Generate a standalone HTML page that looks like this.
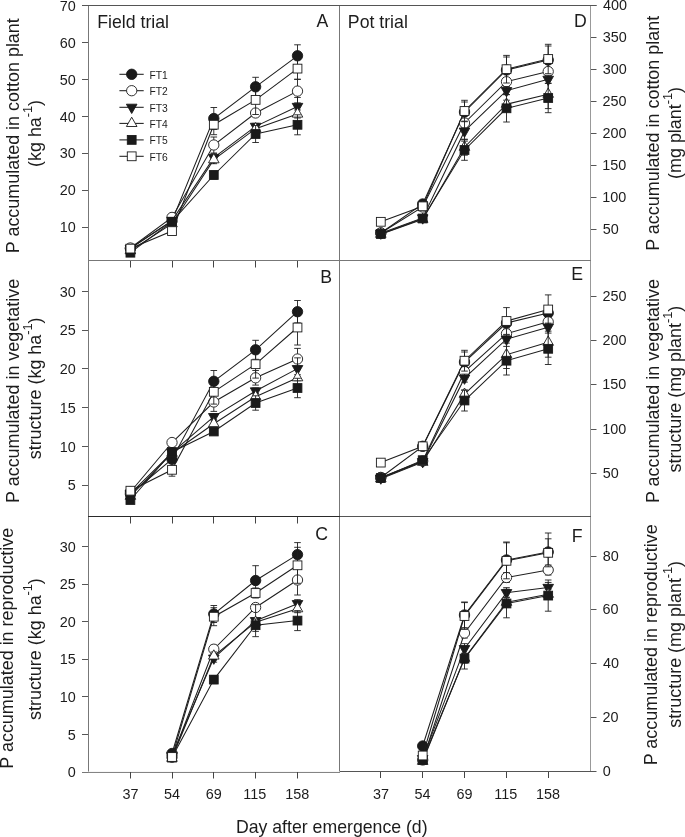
<!DOCTYPE html>
<html><head><meta charset="utf-8"><style>
html,body{margin:0;padding:0;background:#fff;}
svg{display:block;will-change:transform;}
text{font-family:"Liberation Sans",sans-serif;fill:#1c1c1c;}
</style></head><body>
<svg width="685" height="837" viewBox="0 0 685 837">
<rect width="685" height="837" fill="#fff"/>
<line x1="88.50" y1="5.00" x2="88.50" y2="773.00" stroke="#777" stroke-width="1"/>
<line x1="339.50" y1="5.00" x2="339.50" y2="772.00" stroke="#777" stroke-width="1"/>
<line x1="590.50" y1="5.00" x2="590.50" y2="772.00" stroke="#999" stroke-width="1"/>
<line x1="82.00" y1="5.50" x2="596.50" y2="5.50" stroke="#555" stroke-width="1"/>
<line x1="88.00" y1="260.50" x2="591.00" y2="260.50" stroke="#777" stroke-width="1"/>
<line x1="88.00" y1="516.50" x2="340.00" y2="516.50" stroke="#2a2a2a" stroke-width="1"/>
<line x1="340.00" y1="516.50" x2="591.00" y2="516.50" stroke="#555" stroke-width="1"/>
<line x1="82.00" y1="772.50" x2="340.00" y2="772.50" stroke="#777" stroke-width="1"/>
<line x1="88.00" y1="771.70" x2="340.00" y2="771.70" stroke="#eee" stroke-width="0.6"/>
<line x1="340.00" y1="771.50" x2="591.00" y2="771.50" stroke="#555" stroke-width="1"/>
<line x1="82.00" y1="227.50" x2="88.00" y2="227.50" stroke="#555" stroke-width="1"/>
<text x="59.75" y="232.40" font-size="14.4" text-anchor="start" >10</text>
<line x1="82.00" y1="190.50" x2="88.00" y2="190.50" stroke="#555" stroke-width="1"/>
<text x="59.75" y="195.43" font-size="14.4" text-anchor="start" >20</text>
<line x1="82.00" y1="153.50" x2="88.00" y2="153.50" stroke="#555" stroke-width="1"/>
<text x="59.75" y="158.47" font-size="14.4" text-anchor="start" >30</text>
<line x1="82.00" y1="116.50" x2="88.00" y2="116.50" stroke="#555" stroke-width="1"/>
<text x="59.75" y="121.50" font-size="14.4" text-anchor="start" >40</text>
<line x1="82.00" y1="79.50" x2="88.00" y2="79.50" stroke="#555" stroke-width="1"/>
<text x="59.75" y="84.53" font-size="14.4" text-anchor="start" >50</text>
<line x1="82.00" y1="42.50" x2="88.00" y2="42.50" stroke="#555" stroke-width="1"/>
<text x="59.75" y="47.57" font-size="14.4" text-anchor="start" >60</text>
<text x="59.75" y="10.60" font-size="14.4" text-anchor="start" >70</text>
<line x1="82.00" y1="485.50" x2="88.00" y2="485.50" stroke="#555" stroke-width="1"/>
<text x="67.80" y="490.30" font-size="14.4" text-anchor="start" >5</text>
<line x1="82.00" y1="446.50" x2="88.00" y2="446.50" stroke="#555" stroke-width="1"/>
<text x="59.75" y="451.56" font-size="14.4" text-anchor="start" >10</text>
<line x1="82.00" y1="407.50" x2="88.00" y2="407.50" stroke="#555" stroke-width="1"/>
<text x="59.79" y="412.82" font-size="14.4" text-anchor="start" >15</text>
<line x1="82.00" y1="368.50" x2="88.00" y2="368.50" stroke="#555" stroke-width="1"/>
<text x="59.75" y="374.08" font-size="14.4" text-anchor="start" >20</text>
<line x1="82.00" y1="330.50" x2="88.00" y2="330.50" stroke="#555" stroke-width="1"/>
<text x="59.79" y="335.34" font-size="14.4" text-anchor="start" >25</text>
<line x1="82.00" y1="291.50" x2="88.00" y2="291.50" stroke="#555" stroke-width="1"/>
<text x="59.75" y="296.60" font-size="14.4" text-anchor="start" >30</text>
<line x1="82.00" y1="734.50" x2="88.00" y2="734.50" stroke="#555" stroke-width="1"/>
<text x="67.80" y="739.51" font-size="14.4" text-anchor="start" >5</text>
<line x1="82.00" y1="696.50" x2="88.00" y2="696.50" stroke="#555" stroke-width="1"/>
<text x="59.75" y="701.93" font-size="14.4" text-anchor="start" >10</text>
<line x1="82.00" y1="659.50" x2="88.00" y2="659.50" stroke="#555" stroke-width="1"/>
<text x="59.79" y="664.35" font-size="14.4" text-anchor="start" >15</text>
<line x1="82.00" y1="621.50" x2="88.00" y2="621.50" stroke="#555" stroke-width="1"/>
<text x="59.75" y="626.76" font-size="14.4" text-anchor="start" >20</text>
<line x1="82.00" y1="584.50" x2="88.00" y2="584.50" stroke="#555" stroke-width="1"/>
<text x="59.79" y="589.18" font-size="14.4" text-anchor="start" >25</text>
<line x1="82.00" y1="546.50" x2="88.00" y2="546.50" stroke="#555" stroke-width="1"/>
<text x="59.75" y="551.59" font-size="14.4" text-anchor="start" >30</text>
<text x="67.75" y="777.10" font-size="14.4" text-anchor="start" >0</text>
<line x1="591.00" y1="229.50" x2="596.50" y2="229.50" stroke="#555" stroke-width="1"/>
<text x="602.72" y="233.51" font-size="14.4" text-anchor="start" >50</text>
<line x1="591.00" y1="197.50" x2="596.50" y2="197.50" stroke="#555" stroke-width="1"/>
<text x="602.20" y="201.58" font-size="14.4" text-anchor="start" >100</text>
<line x1="591.00" y1="165.50" x2="596.50" y2="165.50" stroke="#555" stroke-width="1"/>
<text x="602.20" y="169.65" font-size="14.4" text-anchor="start" >150</text>
<line x1="591.00" y1="133.50" x2="596.50" y2="133.50" stroke="#555" stroke-width="1"/>
<text x="602.58" y="137.72" font-size="14.4" text-anchor="start" >200</text>
<line x1="591.00" y1="101.50" x2="596.50" y2="101.50" stroke="#555" stroke-width="1"/>
<text x="602.58" y="105.79" font-size="14.4" text-anchor="start" >250</text>
<line x1="591.00" y1="69.50" x2="596.50" y2="69.50" stroke="#555" stroke-width="1"/>
<text x="602.75" y="73.86" font-size="14.4" text-anchor="start" >300</text>
<line x1="591.00" y1="37.50" x2="596.50" y2="37.50" stroke="#555" stroke-width="1"/>
<text x="602.75" y="41.93" font-size="14.4" text-anchor="start" >350</text>
<line x1="591.00" y1="5.50" x2="596.50" y2="5.50" stroke="#555" stroke-width="1"/>
<text x="602.97" y="10.00" font-size="14.4" text-anchor="start" >400</text>
<line x1="591.00" y1="473.50" x2="596.50" y2="473.50" stroke="#555" stroke-width="1"/>
<text x="602.72" y="478.20" font-size="14.4" text-anchor="start" >50</text>
<line x1="591.00" y1="429.50" x2="596.50" y2="429.50" stroke="#555" stroke-width="1"/>
<text x="602.20" y="433.80" font-size="14.4" text-anchor="start" >100</text>
<line x1="591.00" y1="384.50" x2="596.50" y2="384.50" stroke="#555" stroke-width="1"/>
<text x="602.20" y="389.40" font-size="14.4" text-anchor="start" >150</text>
<line x1="591.00" y1="340.50" x2="596.50" y2="340.50" stroke="#555" stroke-width="1"/>
<text x="602.58" y="345.00" font-size="14.4" text-anchor="start" >200</text>
<line x1="591.00" y1="296.50" x2="596.50" y2="296.50" stroke="#555" stroke-width="1"/>
<text x="602.58" y="300.60" font-size="14.4" text-anchor="start" >250</text>
<line x1="591.00" y1="717.50" x2="596.50" y2="717.50" stroke="#555" stroke-width="1"/>
<text x="602.58" y="722.00" font-size="14.4" text-anchor="start" >20</text>
<line x1="591.00" y1="663.50" x2="596.50" y2="663.50" stroke="#555" stroke-width="1"/>
<text x="602.97" y="668.20" font-size="14.4" text-anchor="start" >40</text>
<line x1="591.00" y1="609.50" x2="596.50" y2="609.50" stroke="#555" stroke-width="1"/>
<text x="602.57" y="614.40" font-size="14.4" text-anchor="start" >60</text>
<line x1="591.00" y1="556.50" x2="596.50" y2="556.50" stroke="#555" stroke-width="1"/>
<text x="602.67" y="560.60" font-size="14.4" text-anchor="start" >80</text>
<text x="602.74" y="775.80" font-size="14.4" text-anchor="start" >0</text>
<line x1="591.00" y1="771.50" x2="596.50" y2="771.50" stroke="#555" stroke-width="1"/>
<line x1="130.50" y1="261.00" x2="130.50" y2="267.50" stroke="#444" stroke-width="1"/>
<line x1="172.50" y1="261.00" x2="172.50" y2="267.50" stroke="#444" stroke-width="1"/>
<line x1="213.50" y1="261.00" x2="213.50" y2="267.50" stroke="#444" stroke-width="1"/>
<line x1="255.50" y1="261.00" x2="255.50" y2="267.50" stroke="#444" stroke-width="1"/>
<line x1="297.50" y1="261.00" x2="297.50" y2="267.50" stroke="#444" stroke-width="1"/>
<line x1="130.50" y1="517.00" x2="130.50" y2="523.50" stroke="#444" stroke-width="1"/>
<line x1="172.50" y1="517.00" x2="172.50" y2="523.50" stroke="#444" stroke-width="1"/>
<line x1="213.50" y1="517.00" x2="213.50" y2="523.50" stroke="#444" stroke-width="1"/>
<line x1="255.50" y1="517.00" x2="255.50" y2="523.50" stroke="#444" stroke-width="1"/>
<line x1="297.50" y1="517.00" x2="297.50" y2="523.50" stroke="#444" stroke-width="1"/>
<line x1="130.50" y1="772.00" x2="130.50" y2="778.50" stroke="#444" stroke-width="1"/>
<line x1="172.50" y1="772.00" x2="172.50" y2="778.50" stroke="#444" stroke-width="1"/>
<line x1="213.50" y1="772.00" x2="213.50" y2="778.50" stroke="#444" stroke-width="1"/>
<line x1="255.50" y1="772.00" x2="255.50" y2="778.50" stroke="#444" stroke-width="1"/>
<line x1="297.50" y1="772.00" x2="297.50" y2="778.50" stroke="#444" stroke-width="1"/>
<line x1="380.50" y1="772.00" x2="380.50" y2="778.00" stroke="#444" stroke-width="1"/>
<line x1="422.50" y1="772.00" x2="422.50" y2="778.00" stroke="#444" stroke-width="1"/>
<line x1="464.50" y1="772.00" x2="464.50" y2="778.00" stroke="#444" stroke-width="1"/>
<line x1="506.50" y1="772.00" x2="506.50" y2="778.00" stroke="#444" stroke-width="1"/>
<line x1="548.50" y1="772.00" x2="548.50" y2="778.00" stroke="#444" stroke-width="1"/>
<text x="122.48" y="798.60" font-size="14.4" text-anchor="start" >37</text>
<text x="163.91" y="798.60" font-size="14.4" text-anchor="start" >54</text>
<text x="205.77" y="798.60" font-size="14.4" text-anchor="start" >69</text>
<text x="243.34" y="798.60" font-size="14.4" text-anchor="start" >115</text>
<text x="285.25" y="798.60" font-size="14.4" text-anchor="start" >158</text>
<text x="372.88" y="798.60" font-size="14.4" text-anchor="start" >37</text>
<text x="414.61" y="798.60" font-size="14.4" text-anchor="start" >54</text>
<text x="456.47" y="798.60" font-size="14.4" text-anchor="start" >69</text>
<text x="494.24" y="798.60" font-size="14.4" text-anchor="start" >115</text>
<text x="535.95" y="798.60" font-size="14.4" text-anchor="start" >158</text>
<text x="97.25" y="27.60" font-size="17.7" text-anchor="start" >Field trial</text>
<text x="347.85" y="27.50" font-size="17.7" text-anchor="start" >Pot trial</text>
<text x="316.53" y="27.00" font-size="17.7" text-anchor="start" >A</text>
<text x="320.33" y="282.70" font-size="17.7" text-anchor="start" >B</text>
<text x="315.19" y="539.70" font-size="17.7" text-anchor="start" >C</text>
<text x="573.96" y="27.40" font-size="17.7" text-anchor="start" >D</text>
<text x="571.15" y="279.90" font-size="17.7" text-anchor="start" >E</text>
<text x="571.80" y="541.90" font-size="17.7" text-anchor="start" >F</text>
<text x="235.91" y="832.80" font-size="17.7" text-anchor="start" >Day after emergence (d)</text>
<text transform="translate(19.10,135.70) rotate(-90)" x="0" y="0" font-size="17.95" text-anchor="middle"><tspan>P accumulated in cotton plant</tspan></text>
<text transform="translate(40.60,133.50) rotate(-90)" x="0" y="0" font-size="17.95" text-anchor="middle"><tspan>(kg ha</tspan><tspan font-size="12.6" dy="-8.97">-1</tspan><tspan dy="8.97">)</tspan></text>
<text transform="translate(19.10,390.90) rotate(-90)" x="0" y="0" font-size="17.95" text-anchor="middle"><tspan>P accumulated in vegetative</tspan></text>
<text transform="translate(40.60,388.40) rotate(-90)" x="0" y="0" font-size="17.95" text-anchor="middle"><tspan>structure (kg ha</tspan><tspan font-size="12.6" dy="-8.97">-1</tspan><tspan dy="8.97">)</tspan></text>
<text transform="translate(13.40,648.20) rotate(-90)" x="0" y="0" font-size="17.95" text-anchor="middle"><tspan>P accumulated in reproductive</tspan></text>
<text transform="translate(40.90,649.10) rotate(-90)" x="0" y="0" font-size="17.95" text-anchor="middle"><tspan>structure (kg ha</tspan><tspan font-size="12.6" dy="-8.97">-1</tspan><tspan dy="8.97">)</tspan></text>
<text transform="translate(659.40,133.30) rotate(-90)" x="0" y="0" font-size="17.95" text-anchor="middle"><tspan>P accumulated in cotton plant</tspan></text>
<text transform="translate(681.00,133.00) rotate(-90)" x="0" y="0" font-size="17.95" text-anchor="middle"><tspan>(mg plant</tspan><tspan font-size="12.6" dy="-8.97">-1</tspan><tspan dy="8.97">)</tspan></text>
<text transform="translate(659.40,391.00) rotate(-90)" x="0" y="0" font-size="17.95" text-anchor="middle"><tspan>P accumulated in vegetative</tspan></text>
<text transform="translate(681.00,389.20) rotate(-90)" x="0" y="0" font-size="17.95" text-anchor="middle"><tspan>structure (mg plant</tspan><tspan font-size="12.6" dy="-8.97">-1</tspan><tspan dy="8.97">)</tspan></text>
<text transform="translate(657.00,644.80) rotate(-90)" x="0" y="0" font-size="17.95" text-anchor="middle"><tspan>P accumulated in reproductive</tspan></text>
<text transform="translate(681.00,644.30) rotate(-90)" x="0" y="0" font-size="17.95" text-anchor="middle"><tspan>structure (mg plant</tspan><tspan font-size="12.6" dy="-8.97">-1</tspan><tspan dy="8.97">)</tspan></text>
<polyline fill="none" stroke="#1e1e1e" stroke-width="1.05" points="130.40,248.50 172.00,221.00 213.80,118.50 255.60,86.80 297.50,55.80"/>
<line x1="213.80" y1="107.50" x2="213.80" y2="129.50" stroke="#1e1e1e" stroke-width="0.9"/>
<line x1="210.50" y1="107.50" x2="217.10" y2="107.50" stroke="#1e1e1e" stroke-width="0.9"/>
<line x1="210.50" y1="129.50" x2="217.10" y2="129.50" stroke="#1e1e1e" stroke-width="0.9"/>
<line x1="255.60" y1="77.30" x2="255.60" y2="96.30" stroke="#1e1e1e" stroke-width="0.9"/>
<line x1="252.30" y1="77.30" x2="258.90" y2="77.30" stroke="#1e1e1e" stroke-width="0.9"/>
<line x1="252.30" y1="96.30" x2="258.90" y2="96.30" stroke="#1e1e1e" stroke-width="0.9"/>
<line x1="297.50" y1="44.80" x2="297.50" y2="66.80" stroke="#1e1e1e" stroke-width="0.9"/>
<line x1="294.20" y1="44.80" x2="300.80" y2="44.80" stroke="#1e1e1e" stroke-width="0.9"/>
<line x1="294.20" y1="66.80" x2="300.80" y2="66.80" stroke="#1e1e1e" stroke-width="0.9"/>
<circle cx="130.40" cy="248.50" r="5.2" fill="#1a1a1a" stroke="#1a1a1a" stroke-width="0.9"/>
<circle cx="172.00" cy="221.00" r="5.2" fill="#1a1a1a" stroke="#1a1a1a" stroke-width="0.9"/>
<circle cx="213.80" cy="118.50" r="5.2" fill="#1a1a1a" stroke="#1a1a1a" stroke-width="0.9"/>
<circle cx="255.60" cy="86.80" r="5.2" fill="#1a1a1a" stroke="#1a1a1a" stroke-width="0.9"/>
<circle cx="297.50" cy="55.80" r="5.2" fill="#1a1a1a" stroke="#1a1a1a" stroke-width="0.9"/>
<polyline fill="none" stroke="#1e1e1e" stroke-width="1.05" points="130.40,248.00 172.00,217.40 213.80,145.00 255.60,113.00 297.50,91.10"/>
<line x1="213.80" y1="137.00" x2="213.80" y2="153.00" stroke="#1e1e1e" stroke-width="0.9"/>
<line x1="210.50" y1="137.00" x2="217.10" y2="137.00" stroke="#1e1e1e" stroke-width="0.9"/>
<line x1="210.50" y1="153.00" x2="217.10" y2="153.00" stroke="#1e1e1e" stroke-width="0.9"/>
<line x1="255.60" y1="111.00" x2="255.60" y2="115.00" stroke="#1e1e1e" stroke-width="0.9"/>
<line x1="252.30" y1="111.00" x2="258.90" y2="111.00" stroke="#1e1e1e" stroke-width="0.9"/>
<line x1="252.30" y1="115.00" x2="258.90" y2="115.00" stroke="#1e1e1e" stroke-width="0.9"/>
<line x1="297.50" y1="79.30" x2="297.50" y2="102.90" stroke="#1e1e1e" stroke-width="0.9"/>
<line x1="294.20" y1="79.30" x2="300.80" y2="79.30" stroke="#1e1e1e" stroke-width="0.9"/>
<line x1="294.20" y1="102.90" x2="300.80" y2="102.90" stroke="#1e1e1e" stroke-width="0.9"/>
<circle cx="130.40" cy="248.00" r="5.15" fill="#fff" stroke="#1a1a1a" stroke-width="0.9"/>
<circle cx="172.00" cy="217.40" r="5.15" fill="#fff" stroke="#1a1a1a" stroke-width="0.9"/>
<circle cx="213.80" cy="145.00" r="5.15" fill="#fff" stroke="#1a1a1a" stroke-width="0.9"/>
<circle cx="255.60" cy="113.00" r="5.15" fill="#fff" stroke="#1a1a1a" stroke-width="0.9"/>
<circle cx="297.50" cy="91.10" r="5.15" fill="#fff" stroke="#1a1a1a" stroke-width="0.9"/>
<polyline fill="none" stroke="#1e1e1e" stroke-width="1.05" points="130.40,248.15 172.00,220.65 213.80,157.65 255.60,126.35 297.50,106.45"/>
<line x1="213.80" y1="153.65" x2="213.80" y2="161.65" stroke="#1e1e1e" stroke-width="0.9"/>
<line x1="210.50" y1="153.65" x2="217.10" y2="153.65" stroke="#1e1e1e" stroke-width="0.9"/>
<line x1="210.50" y1="161.65" x2="217.10" y2="161.65" stroke="#1e1e1e" stroke-width="0.9"/>
<line x1="255.60" y1="123.35" x2="255.60" y2="129.35" stroke="#1e1e1e" stroke-width="0.9"/>
<line x1="252.30" y1="123.35" x2="258.90" y2="123.35" stroke="#1e1e1e" stroke-width="0.9"/>
<line x1="252.30" y1="129.35" x2="258.90" y2="129.35" stroke="#1e1e1e" stroke-width="0.9"/>
<line x1="297.50" y1="97.45" x2="297.50" y2="115.45" stroke="#1e1e1e" stroke-width="0.9"/>
<line x1="294.20" y1="97.45" x2="300.80" y2="97.45" stroke="#1e1e1e" stroke-width="0.9"/>
<line x1="294.20" y1="115.45" x2="300.80" y2="115.45" stroke="#1e1e1e" stroke-width="0.9"/>
<polygon points="125.10,245.05 135.70,245.05 130.40,254.35" fill="#1a1a1a" stroke="#1a1a1a" stroke-width="0.9"/>
<polygon points="166.70,217.55 177.30,217.55 172.00,226.85" fill="#1a1a1a" stroke="#1a1a1a" stroke-width="0.9"/>
<polygon points="208.50,154.55 219.10,154.55 213.80,163.85" fill="#1a1a1a" stroke="#1a1a1a" stroke-width="0.9"/>
<polygon points="250.30,123.25 260.90,123.25 255.60,132.55" fill="#1a1a1a" stroke="#1a1a1a" stroke-width="0.9"/>
<polygon points="292.20,103.35 302.80,103.35 297.50,112.65" fill="#1a1a1a" stroke="#1a1a1a" stroke-width="0.9"/>
<polyline fill="none" stroke="#1e1e1e" stroke-width="1.05" points="130.40,250.70 172.00,223.70 213.80,159.70 255.60,128.70 297.50,114.00"/>
<line x1="213.80" y1="155.70" x2="213.80" y2="163.70" stroke="#1e1e1e" stroke-width="0.9"/>
<line x1="210.50" y1="155.70" x2="217.10" y2="155.70" stroke="#1e1e1e" stroke-width="0.9"/>
<line x1="210.50" y1="163.70" x2="217.10" y2="163.70" stroke="#1e1e1e" stroke-width="0.9"/>
<line x1="255.60" y1="125.70" x2="255.60" y2="131.70" stroke="#1e1e1e" stroke-width="0.9"/>
<line x1="252.30" y1="125.70" x2="258.90" y2="125.70" stroke="#1e1e1e" stroke-width="0.9"/>
<line x1="252.30" y1="131.70" x2="258.90" y2="131.70" stroke="#1e1e1e" stroke-width="0.9"/>
<line x1="297.50" y1="110.00" x2="297.50" y2="118.00" stroke="#1e1e1e" stroke-width="0.9"/>
<line x1="294.20" y1="110.00" x2="300.80" y2="110.00" stroke="#1e1e1e" stroke-width="0.9"/>
<line x1="294.20" y1="118.00" x2="300.80" y2="118.00" stroke="#1e1e1e" stroke-width="0.9"/>
<polygon points="125.10,253.80 135.70,253.80 130.40,244.50" fill="#fff" stroke="#1a1a1a" stroke-width="0.9"/>
<polygon points="166.70,226.80 177.30,226.80 172.00,217.50" fill="#fff" stroke="#1a1a1a" stroke-width="0.9"/>
<polygon points="208.50,162.80 219.10,162.80 213.80,153.50" fill="#fff" stroke="#1a1a1a" stroke-width="0.9"/>
<polygon points="250.30,131.80 260.90,131.80 255.60,122.50" fill="#fff" stroke="#1a1a1a" stroke-width="0.9"/>
<polygon points="292.20,117.10 302.80,117.10 297.50,107.80" fill="#fff" stroke="#1a1a1a" stroke-width="0.9"/>
<polyline fill="none" stroke="#1e1e1e" stroke-width="1.05" points="130.40,252.70 172.00,221.70 213.80,175.00 255.60,134.00 297.50,124.80"/>
<line x1="213.80" y1="171.00" x2="213.80" y2="179.00" stroke="#1e1e1e" stroke-width="0.9"/>
<line x1="210.50" y1="171.00" x2="217.10" y2="171.00" stroke="#1e1e1e" stroke-width="0.9"/>
<line x1="210.50" y1="179.00" x2="217.10" y2="179.00" stroke="#1e1e1e" stroke-width="0.9"/>
<line x1="255.60" y1="125.50" x2="255.60" y2="142.50" stroke="#1e1e1e" stroke-width="0.9"/>
<line x1="252.30" y1="125.50" x2="258.90" y2="125.50" stroke="#1e1e1e" stroke-width="0.9"/>
<line x1="252.30" y1="142.50" x2="258.90" y2="142.50" stroke="#1e1e1e" stroke-width="0.9"/>
<line x1="297.50" y1="114.80" x2="297.50" y2="134.80" stroke="#1e1e1e" stroke-width="0.9"/>
<line x1="294.20" y1="114.80" x2="300.80" y2="114.80" stroke="#1e1e1e" stroke-width="0.9"/>
<line x1="294.20" y1="134.80" x2="300.80" y2="134.80" stroke="#1e1e1e" stroke-width="0.9"/>
<rect x="126.00" y="248.30" width="8.80" height="8.80" fill="#1a1a1a" stroke="#1a1a1a" stroke-width="0.9"/>
<rect x="167.60" y="217.30" width="8.80" height="8.80" fill="#1a1a1a" stroke="#1a1a1a" stroke-width="0.9"/>
<rect x="209.40" y="170.60" width="8.80" height="8.80" fill="#1a1a1a" stroke="#1a1a1a" stroke-width="0.9"/>
<rect x="251.20" y="129.60" width="8.80" height="8.80" fill="#1a1a1a" stroke="#1a1a1a" stroke-width="0.9"/>
<rect x="293.10" y="120.40" width="8.80" height="8.80" fill="#1a1a1a" stroke="#1a1a1a" stroke-width="0.9"/>
<polyline fill="none" stroke="#1e1e1e" stroke-width="1.05" points="130.40,248.60 172.00,231.10 213.80,124.70 255.60,99.90 297.50,68.60"/>
<line x1="213.80" y1="114.70" x2="213.80" y2="134.70" stroke="#1e1e1e" stroke-width="0.9"/>
<line x1="210.50" y1="114.70" x2="217.10" y2="114.70" stroke="#1e1e1e" stroke-width="0.9"/>
<line x1="210.50" y1="134.70" x2="217.10" y2="134.70" stroke="#1e1e1e" stroke-width="0.9"/>
<line x1="255.60" y1="85.30" x2="255.60" y2="114.50" stroke="#1e1e1e" stroke-width="0.9"/>
<line x1="252.30" y1="85.30" x2="258.90" y2="85.30" stroke="#1e1e1e" stroke-width="0.9"/>
<line x1="252.30" y1="114.50" x2="258.90" y2="114.50" stroke="#1e1e1e" stroke-width="0.9"/>
<line x1="297.50" y1="57.90" x2="297.50" y2="79.30" stroke="#1e1e1e" stroke-width="0.9"/>
<line x1="294.20" y1="57.90" x2="300.80" y2="57.90" stroke="#1e1e1e" stroke-width="0.9"/>
<line x1="294.20" y1="79.30" x2="300.80" y2="79.30" stroke="#1e1e1e" stroke-width="0.9"/>
<rect x="126.00" y="244.20" width="8.80" height="8.80" fill="#fff" stroke="#1a1a1a" stroke-width="0.9"/>
<rect x="167.60" y="226.70" width="8.80" height="8.80" fill="#fff" stroke="#1a1a1a" stroke-width="0.9"/>
<rect x="209.40" y="120.30" width="8.80" height="8.80" fill="#fff" stroke="#1a1a1a" stroke-width="0.9"/>
<rect x="251.20" y="95.50" width="8.80" height="8.80" fill="#fff" stroke="#1a1a1a" stroke-width="0.9"/>
<rect x="293.10" y="64.20" width="8.80" height="8.80" fill="#fff" stroke="#1a1a1a" stroke-width="0.9"/>
<polyline fill="none" stroke="#1e1e1e" stroke-width="1.05" points="130.40,494.00 172.00,459.20 213.80,381.30 255.60,349.80 297.50,311.70"/>
<line x1="213.80" y1="370.50" x2="213.80" y2="392.10" stroke="#1e1e1e" stroke-width="0.9"/>
<line x1="210.50" y1="370.50" x2="217.10" y2="370.50" stroke="#1e1e1e" stroke-width="0.9"/>
<line x1="210.50" y1="392.10" x2="217.10" y2="392.10" stroke="#1e1e1e" stroke-width="0.9"/>
<line x1="255.60" y1="340.30" x2="255.60" y2="359.30" stroke="#1e1e1e" stroke-width="0.9"/>
<line x1="252.30" y1="340.30" x2="258.90" y2="340.30" stroke="#1e1e1e" stroke-width="0.9"/>
<line x1="252.30" y1="359.30" x2="258.90" y2="359.30" stroke="#1e1e1e" stroke-width="0.9"/>
<line x1="297.50" y1="300.50" x2="297.50" y2="322.90" stroke="#1e1e1e" stroke-width="0.9"/>
<line x1="294.20" y1="300.50" x2="300.80" y2="300.50" stroke="#1e1e1e" stroke-width="0.9"/>
<line x1="294.20" y1="322.90" x2="300.80" y2="322.90" stroke="#1e1e1e" stroke-width="0.9"/>
<circle cx="130.40" cy="494.00" r="5.2" fill="#1a1a1a" stroke="#1a1a1a" stroke-width="0.9"/>
<circle cx="172.00" cy="459.20" r="5.2" fill="#1a1a1a" stroke="#1a1a1a" stroke-width="0.9"/>
<circle cx="213.80" cy="381.30" r="5.2" fill="#1a1a1a" stroke="#1a1a1a" stroke-width="0.9"/>
<circle cx="255.60" cy="349.80" r="5.2" fill="#1a1a1a" stroke="#1a1a1a" stroke-width="0.9"/>
<circle cx="297.50" cy="311.70" r="5.2" fill="#1a1a1a" stroke="#1a1a1a" stroke-width="0.9"/>
<polyline fill="none" stroke="#1e1e1e" stroke-width="1.05" points="130.40,492.00 172.00,442.50 213.80,402.00 255.60,377.80 297.50,359.00"/>
<line x1="213.80" y1="392.60" x2="213.80" y2="411.40" stroke="#1e1e1e" stroke-width="0.9"/>
<line x1="210.50" y1="392.60" x2="217.10" y2="392.60" stroke="#1e1e1e" stroke-width="0.9"/>
<line x1="210.50" y1="411.40" x2="217.10" y2="411.40" stroke="#1e1e1e" stroke-width="0.9"/>
<line x1="255.60" y1="370.50" x2="255.60" y2="385.10" stroke="#1e1e1e" stroke-width="0.9"/>
<line x1="252.30" y1="370.50" x2="258.90" y2="370.50" stroke="#1e1e1e" stroke-width="0.9"/>
<line x1="252.30" y1="385.10" x2="258.90" y2="385.10" stroke="#1e1e1e" stroke-width="0.9"/>
<line x1="297.50" y1="348.40" x2="297.50" y2="369.60" stroke="#1e1e1e" stroke-width="0.9"/>
<line x1="294.20" y1="348.40" x2="300.80" y2="348.40" stroke="#1e1e1e" stroke-width="0.9"/>
<line x1="294.20" y1="369.60" x2="300.80" y2="369.60" stroke="#1e1e1e" stroke-width="0.9"/>
<circle cx="130.40" cy="492.00" r="5.15" fill="#fff" stroke="#1a1a1a" stroke-width="0.9"/>
<circle cx="172.00" cy="442.50" r="5.15" fill="#fff" stroke="#1a1a1a" stroke-width="0.9"/>
<circle cx="213.80" cy="402.00" r="5.15" fill="#fff" stroke="#1a1a1a" stroke-width="0.9"/>
<circle cx="255.60" cy="377.80" r="5.15" fill="#fff" stroke="#1a1a1a" stroke-width="0.9"/>
<circle cx="297.50" cy="359.00" r="5.15" fill="#fff" stroke="#1a1a1a" stroke-width="0.9"/>
<polyline fill="none" stroke="#1e1e1e" stroke-width="1.05" points="130.40,493.65 172.00,452.65 213.80,416.65 255.60,390.95 297.50,368.65"/>
<line x1="213.80" y1="413.65" x2="213.80" y2="419.65" stroke="#1e1e1e" stroke-width="0.9"/>
<line x1="210.50" y1="413.65" x2="217.10" y2="413.65" stroke="#1e1e1e" stroke-width="0.9"/>
<line x1="210.50" y1="419.65" x2="217.10" y2="419.65" stroke="#1e1e1e" stroke-width="0.9"/>
<line x1="255.60" y1="387.95" x2="255.60" y2="393.95" stroke="#1e1e1e" stroke-width="0.9"/>
<line x1="252.30" y1="387.95" x2="258.90" y2="387.95" stroke="#1e1e1e" stroke-width="0.9"/>
<line x1="252.30" y1="393.95" x2="258.90" y2="393.95" stroke="#1e1e1e" stroke-width="0.9"/>
<line x1="297.50" y1="357.85" x2="297.50" y2="379.45" stroke="#1e1e1e" stroke-width="0.9"/>
<line x1="294.20" y1="357.85" x2="300.80" y2="357.85" stroke="#1e1e1e" stroke-width="0.9"/>
<line x1="294.20" y1="379.45" x2="300.80" y2="379.45" stroke="#1e1e1e" stroke-width="0.9"/>
<polygon points="125.10,490.55 135.70,490.55 130.40,499.85" fill="#1a1a1a" stroke="#1a1a1a" stroke-width="0.9"/>
<polygon points="166.70,449.55 177.30,449.55 172.00,458.85" fill="#1a1a1a" stroke="#1a1a1a" stroke-width="0.9"/>
<polygon points="208.50,413.55 219.10,413.55 213.80,422.85" fill="#1a1a1a" stroke="#1a1a1a" stroke-width="0.9"/>
<polygon points="250.30,387.85 260.90,387.85 255.60,397.15" fill="#1a1a1a" stroke="#1a1a1a" stroke-width="0.9"/>
<polygon points="292.20,365.55 302.80,365.55 297.50,374.85" fill="#1a1a1a" stroke="#1a1a1a" stroke-width="0.9"/>
<polyline fill="none" stroke="#1e1e1e" stroke-width="1.05" points="130.40,496.20 172.00,453.20 213.80,423.70 255.60,396.70 297.50,377.70"/>
<line x1="213.80" y1="420.70" x2="213.80" y2="426.70" stroke="#1e1e1e" stroke-width="0.9"/>
<line x1="210.50" y1="420.70" x2="217.10" y2="420.70" stroke="#1e1e1e" stroke-width="0.9"/>
<line x1="210.50" y1="426.70" x2="217.10" y2="426.70" stroke="#1e1e1e" stroke-width="0.9"/>
<line x1="255.60" y1="393.70" x2="255.60" y2="399.70" stroke="#1e1e1e" stroke-width="0.9"/>
<line x1="252.30" y1="393.70" x2="258.90" y2="393.70" stroke="#1e1e1e" stroke-width="0.9"/>
<line x1="252.30" y1="399.70" x2="258.90" y2="399.70" stroke="#1e1e1e" stroke-width="0.9"/>
<line x1="297.50" y1="374.70" x2="297.50" y2="380.70" stroke="#1e1e1e" stroke-width="0.9"/>
<line x1="294.20" y1="374.70" x2="300.80" y2="374.70" stroke="#1e1e1e" stroke-width="0.9"/>
<line x1="294.20" y1="380.70" x2="300.80" y2="380.70" stroke="#1e1e1e" stroke-width="0.9"/>
<polygon points="125.10,499.30 135.70,499.30 130.40,490.00" fill="#fff" stroke="#1a1a1a" stroke-width="0.9"/>
<polygon points="166.70,456.30 177.30,456.30 172.00,447.00" fill="#fff" stroke="#1a1a1a" stroke-width="0.9"/>
<polygon points="208.50,426.80 219.10,426.80 213.80,417.50" fill="#fff" stroke="#1a1a1a" stroke-width="0.9"/>
<polygon points="250.30,399.80 260.90,399.80 255.60,390.50" fill="#fff" stroke="#1a1a1a" stroke-width="0.9"/>
<polygon points="292.20,380.80 302.80,380.80 297.50,371.50" fill="#fff" stroke="#1a1a1a" stroke-width="0.9"/>
<polyline fill="none" stroke="#1e1e1e" stroke-width="1.05" points="130.40,500.00 172.00,452.00 213.80,431.50 255.60,403.00 297.50,388.00"/>
<line x1="213.80" y1="428.50" x2="213.80" y2="434.50" stroke="#1e1e1e" stroke-width="0.9"/>
<line x1="210.50" y1="428.50" x2="217.10" y2="428.50" stroke="#1e1e1e" stroke-width="0.9"/>
<line x1="210.50" y1="434.50" x2="217.10" y2="434.50" stroke="#1e1e1e" stroke-width="0.9"/>
<line x1="255.60" y1="395.80" x2="255.60" y2="410.20" stroke="#1e1e1e" stroke-width="0.9"/>
<line x1="252.30" y1="395.80" x2="258.90" y2="395.80" stroke="#1e1e1e" stroke-width="0.9"/>
<line x1="252.30" y1="410.20" x2="258.90" y2="410.20" stroke="#1e1e1e" stroke-width="0.9"/>
<line x1="297.50" y1="378.30" x2="297.50" y2="397.70" stroke="#1e1e1e" stroke-width="0.9"/>
<line x1="294.20" y1="378.30" x2="300.80" y2="378.30" stroke="#1e1e1e" stroke-width="0.9"/>
<line x1="294.20" y1="397.70" x2="300.80" y2="397.70" stroke="#1e1e1e" stroke-width="0.9"/>
<rect x="126.00" y="495.60" width="8.80" height="8.80" fill="#1a1a1a" stroke="#1a1a1a" stroke-width="0.9"/>
<rect x="167.60" y="447.60" width="8.80" height="8.80" fill="#1a1a1a" stroke="#1a1a1a" stroke-width="0.9"/>
<rect x="209.40" y="427.10" width="8.80" height="8.80" fill="#1a1a1a" stroke="#1a1a1a" stroke-width="0.9"/>
<rect x="251.20" y="398.60" width="8.80" height="8.80" fill="#1a1a1a" stroke="#1a1a1a" stroke-width="0.9"/>
<rect x="293.10" y="383.60" width="8.80" height="8.80" fill="#1a1a1a" stroke="#1a1a1a" stroke-width="0.9"/>
<polyline fill="none" stroke="#1e1e1e" stroke-width="1.05" points="130.40,490.70 172.00,469.80 213.80,391.80 255.60,364.20 297.50,327.50"/>
<line x1="172.00" y1="463.40" x2="172.00" y2="476.20" stroke="#1e1e1e" stroke-width="0.9"/>
<line x1="168.70" y1="463.40" x2="175.30" y2="463.40" stroke="#1e1e1e" stroke-width="0.9"/>
<line x1="168.70" y1="476.20" x2="175.30" y2="476.20" stroke="#1e1e1e" stroke-width="0.9"/>
<line x1="213.80" y1="379.50" x2="213.80" y2="404.10" stroke="#1e1e1e" stroke-width="0.9"/>
<line x1="210.50" y1="379.50" x2="217.10" y2="379.50" stroke="#1e1e1e" stroke-width="0.9"/>
<line x1="210.50" y1="404.10" x2="217.10" y2="404.10" stroke="#1e1e1e" stroke-width="0.9"/>
<line x1="255.60" y1="350.30" x2="255.60" y2="378.10" stroke="#1e1e1e" stroke-width="0.9"/>
<line x1="252.30" y1="350.30" x2="258.90" y2="350.30" stroke="#1e1e1e" stroke-width="0.9"/>
<line x1="252.30" y1="378.10" x2="258.90" y2="378.10" stroke="#1e1e1e" stroke-width="0.9"/>
<line x1="297.50" y1="310.00" x2="297.50" y2="345.00" stroke="#1e1e1e" stroke-width="0.9"/>
<line x1="294.20" y1="310.00" x2="300.80" y2="310.00" stroke="#1e1e1e" stroke-width="0.9"/>
<line x1="294.20" y1="345.00" x2="300.80" y2="345.00" stroke="#1e1e1e" stroke-width="0.9"/>
<rect x="126.00" y="486.30" width="8.80" height="8.80" fill="#fff" stroke="#1a1a1a" stroke-width="0.9"/>
<rect x="167.60" y="465.40" width="8.80" height="8.80" fill="#fff" stroke="#1a1a1a" stroke-width="0.9"/>
<rect x="209.40" y="387.40" width="8.80" height="8.80" fill="#fff" stroke="#1a1a1a" stroke-width="0.9"/>
<rect x="251.20" y="359.80" width="8.80" height="8.80" fill="#fff" stroke="#1a1a1a" stroke-width="0.9"/>
<rect x="293.10" y="323.10" width="8.80" height="8.80" fill="#fff" stroke="#1a1a1a" stroke-width="0.9"/>
<polyline fill="none" stroke="#1e1e1e" stroke-width="1.05" points="172.00,753.50 213.80,614.00 255.60,580.50 297.50,554.60"/>
<line x1="213.80" y1="605.50" x2="213.80" y2="622.50" stroke="#1e1e1e" stroke-width="0.9"/>
<line x1="210.50" y1="605.50" x2="217.10" y2="605.50" stroke="#1e1e1e" stroke-width="0.9"/>
<line x1="210.50" y1="622.50" x2="217.10" y2="622.50" stroke="#1e1e1e" stroke-width="0.9"/>
<line x1="255.60" y1="565.70" x2="255.60" y2="595.30" stroke="#1e1e1e" stroke-width="0.9"/>
<line x1="252.30" y1="565.70" x2="258.90" y2="565.70" stroke="#1e1e1e" stroke-width="0.9"/>
<line x1="252.30" y1="595.30" x2="258.90" y2="595.30" stroke="#1e1e1e" stroke-width="0.9"/>
<line x1="297.50" y1="542.60" x2="297.50" y2="566.60" stroke="#1e1e1e" stroke-width="0.9"/>
<line x1="294.20" y1="542.60" x2="300.80" y2="542.60" stroke="#1e1e1e" stroke-width="0.9"/>
<line x1="294.20" y1="566.60" x2="300.80" y2="566.60" stroke="#1e1e1e" stroke-width="0.9"/>
<circle cx="172.00" cy="753.50" r="5.2" fill="#1a1a1a" stroke="#1a1a1a" stroke-width="0.9"/>
<circle cx="213.80" cy="614.00" r="5.2" fill="#1a1a1a" stroke="#1a1a1a" stroke-width="0.9"/>
<circle cx="255.60" cy="580.50" r="5.2" fill="#1a1a1a" stroke="#1a1a1a" stroke-width="0.9"/>
<circle cx="297.50" cy="554.60" r="5.2" fill="#1a1a1a" stroke="#1a1a1a" stroke-width="0.9"/>
<polyline fill="none" stroke="#1e1e1e" stroke-width="1.05" points="172.00,757.20 213.80,649.20 255.60,607.50 297.50,580.00"/>
<line x1="213.80" y1="645.20" x2="213.80" y2="653.20" stroke="#1e1e1e" stroke-width="0.9"/>
<line x1="210.50" y1="645.20" x2="217.10" y2="645.20" stroke="#1e1e1e" stroke-width="0.9"/>
<line x1="210.50" y1="653.20" x2="217.10" y2="653.20" stroke="#1e1e1e" stroke-width="0.9"/>
<line x1="255.60" y1="603.50" x2="255.60" y2="611.50" stroke="#1e1e1e" stroke-width="0.9"/>
<line x1="252.30" y1="603.50" x2="258.90" y2="603.50" stroke="#1e1e1e" stroke-width="0.9"/>
<line x1="252.30" y1="611.50" x2="258.90" y2="611.50" stroke="#1e1e1e" stroke-width="0.9"/>
<line x1="297.50" y1="565.00" x2="297.50" y2="595.00" stroke="#1e1e1e" stroke-width="0.9"/>
<line x1="294.20" y1="565.00" x2="300.80" y2="565.00" stroke="#1e1e1e" stroke-width="0.9"/>
<line x1="294.20" y1="595.00" x2="300.80" y2="595.00" stroke="#1e1e1e" stroke-width="0.9"/>
<circle cx="172.00" cy="757.20" r="5.15" fill="#fff" stroke="#1a1a1a" stroke-width="0.9"/>
<circle cx="213.80" cy="649.20" r="5.15" fill="#fff" stroke="#1a1a1a" stroke-width="0.9"/>
<circle cx="255.60" cy="607.50" r="5.15" fill="#fff" stroke="#1a1a1a" stroke-width="0.9"/>
<circle cx="297.50" cy="580.00" r="5.15" fill="#fff" stroke="#1a1a1a" stroke-width="0.9"/>
<polyline fill="none" stroke="#1e1e1e" stroke-width="1.05" points="172.00,755.65 213.80,658.15 255.60,620.65 297.50,603.65"/>
<line x1="213.80" y1="654.15" x2="213.80" y2="662.15" stroke="#1e1e1e" stroke-width="0.9"/>
<line x1="210.50" y1="654.15" x2="217.10" y2="654.15" stroke="#1e1e1e" stroke-width="0.9"/>
<line x1="210.50" y1="662.15" x2="217.10" y2="662.15" stroke="#1e1e1e" stroke-width="0.9"/>
<line x1="255.60" y1="604.65" x2="255.60" y2="636.65" stroke="#1e1e1e" stroke-width="0.9"/>
<line x1="252.30" y1="604.65" x2="258.90" y2="604.65" stroke="#1e1e1e" stroke-width="0.9"/>
<line x1="252.30" y1="636.65" x2="258.90" y2="636.65" stroke="#1e1e1e" stroke-width="0.9"/>
<line x1="297.50" y1="599.65" x2="297.50" y2="607.65" stroke="#1e1e1e" stroke-width="0.9"/>
<line x1="294.20" y1="599.65" x2="300.80" y2="599.65" stroke="#1e1e1e" stroke-width="0.9"/>
<line x1="294.20" y1="607.65" x2="300.80" y2="607.65" stroke="#1e1e1e" stroke-width="0.9"/>
<polygon points="166.70,752.55 177.30,752.55 172.00,761.85" fill="#1a1a1a" stroke="#1a1a1a" stroke-width="0.9"/>
<polygon points="208.50,655.05 219.10,655.05 213.80,664.35" fill="#1a1a1a" stroke="#1a1a1a" stroke-width="0.9"/>
<polygon points="250.30,617.55 260.90,617.55 255.60,626.85" fill="#1a1a1a" stroke="#1a1a1a" stroke-width="0.9"/>
<polygon points="292.20,600.55 302.80,600.55 297.50,609.85" fill="#1a1a1a" stroke="#1a1a1a" stroke-width="0.9"/>
<polyline fill="none" stroke="#1e1e1e" stroke-width="1.05" points="172.00,758.20 213.80,656.00 255.60,622.20 297.50,608.70"/>
<line x1="213.80" y1="652.00" x2="213.80" y2="660.00" stroke="#1e1e1e" stroke-width="0.9"/>
<line x1="210.50" y1="652.00" x2="217.10" y2="652.00" stroke="#1e1e1e" stroke-width="0.9"/>
<line x1="210.50" y1="660.00" x2="217.10" y2="660.00" stroke="#1e1e1e" stroke-width="0.9"/>
<line x1="255.60" y1="619.20" x2="255.60" y2="625.20" stroke="#1e1e1e" stroke-width="0.9"/>
<line x1="252.30" y1="619.20" x2="258.90" y2="619.20" stroke="#1e1e1e" stroke-width="0.9"/>
<line x1="252.30" y1="625.20" x2="258.90" y2="625.20" stroke="#1e1e1e" stroke-width="0.9"/>
<line x1="297.50" y1="604.70" x2="297.50" y2="612.70" stroke="#1e1e1e" stroke-width="0.9"/>
<line x1="294.20" y1="604.70" x2="300.80" y2="604.70" stroke="#1e1e1e" stroke-width="0.9"/>
<line x1="294.20" y1="612.70" x2="300.80" y2="612.70" stroke="#1e1e1e" stroke-width="0.9"/>
<polygon points="166.70,761.30 177.30,761.30 172.00,752.00" fill="#fff" stroke="#1a1a1a" stroke-width="0.9"/>
<polygon points="208.50,659.10 219.10,659.10 213.80,649.80" fill="#fff" stroke="#1a1a1a" stroke-width="0.9"/>
<polygon points="250.30,625.30 260.90,625.30 255.60,616.00" fill="#fff" stroke="#1a1a1a" stroke-width="0.9"/>
<polygon points="292.20,611.80 302.80,611.80 297.50,602.50" fill="#fff" stroke="#1a1a1a" stroke-width="0.9"/>
<polyline fill="none" stroke="#1e1e1e" stroke-width="1.05" points="172.00,757.60 213.80,679.60 255.60,625.20 297.50,620.60"/>
<line x1="213.80" y1="675.60" x2="213.80" y2="683.60" stroke="#1e1e1e" stroke-width="0.9"/>
<line x1="210.50" y1="675.60" x2="217.10" y2="675.60" stroke="#1e1e1e" stroke-width="0.9"/>
<line x1="210.50" y1="683.60" x2="217.10" y2="683.60" stroke="#1e1e1e" stroke-width="0.9"/>
<line x1="255.60" y1="619.00" x2="255.60" y2="631.40" stroke="#1e1e1e" stroke-width="0.9"/>
<line x1="252.30" y1="619.00" x2="258.90" y2="619.00" stroke="#1e1e1e" stroke-width="0.9"/>
<line x1="252.30" y1="631.40" x2="258.90" y2="631.40" stroke="#1e1e1e" stroke-width="0.9"/>
<line x1="297.50" y1="610.60" x2="297.50" y2="630.60" stroke="#1e1e1e" stroke-width="0.9"/>
<line x1="294.20" y1="610.60" x2="300.80" y2="610.60" stroke="#1e1e1e" stroke-width="0.9"/>
<line x1="294.20" y1="630.60" x2="300.80" y2="630.60" stroke="#1e1e1e" stroke-width="0.9"/>
<rect x="167.60" y="753.20" width="8.80" height="8.80" fill="#1a1a1a" stroke="#1a1a1a" stroke-width="0.9"/>
<rect x="209.40" y="675.20" width="8.80" height="8.80" fill="#1a1a1a" stroke="#1a1a1a" stroke-width="0.9"/>
<rect x="251.20" y="620.80" width="8.80" height="8.80" fill="#1a1a1a" stroke="#1a1a1a" stroke-width="0.9"/>
<rect x="293.10" y="616.20" width="8.80" height="8.80" fill="#1a1a1a" stroke="#1a1a1a" stroke-width="0.9"/>
<polyline fill="none" stroke="#1e1e1e" stroke-width="1.05" points="172.00,757.00 213.80,616.70 255.60,593.00 297.50,565.30"/>
<line x1="213.80" y1="607.70" x2="213.80" y2="625.70" stroke="#1e1e1e" stroke-width="0.9"/>
<line x1="210.50" y1="607.70" x2="217.10" y2="607.70" stroke="#1e1e1e" stroke-width="0.9"/>
<line x1="210.50" y1="625.70" x2="217.10" y2="625.70" stroke="#1e1e1e" stroke-width="0.9"/>
<line x1="255.60" y1="588.00" x2="255.60" y2="598.00" stroke="#1e1e1e" stroke-width="0.9"/>
<line x1="252.30" y1="588.00" x2="258.90" y2="588.00" stroke="#1e1e1e" stroke-width="0.9"/>
<line x1="252.30" y1="598.00" x2="258.90" y2="598.00" stroke="#1e1e1e" stroke-width="0.9"/>
<line x1="297.50" y1="547.30" x2="297.50" y2="583.30" stroke="#1e1e1e" stroke-width="0.9"/>
<line x1="294.20" y1="547.30" x2="300.80" y2="547.30" stroke="#1e1e1e" stroke-width="0.9"/>
<line x1="294.20" y1="583.30" x2="300.80" y2="583.30" stroke="#1e1e1e" stroke-width="0.9"/>
<rect x="167.60" y="752.60" width="8.80" height="8.80" fill="#fff" stroke="#1a1a1a" stroke-width="0.9"/>
<rect x="209.40" y="612.30" width="8.80" height="8.80" fill="#fff" stroke="#1a1a1a" stroke-width="0.9"/>
<rect x="251.20" y="588.60" width="8.80" height="8.80" fill="#fff" stroke="#1a1a1a" stroke-width="0.9"/>
<rect x="293.10" y="560.90" width="8.80" height="8.80" fill="#fff" stroke="#1a1a1a" stroke-width="0.9"/>
<polyline fill="none" stroke="#1e1e1e" stroke-width="1.05" points="380.80,233.00 422.70,204.00 464.50,112.00 506.50,70.00 548.20,60.00"/>
<line x1="464.50" y1="102.00" x2="464.50" y2="122.00" stroke="#1e1e1e" stroke-width="0.9"/>
<line x1="461.20" y1="102.00" x2="467.80" y2="102.00" stroke="#1e1e1e" stroke-width="0.9"/>
<line x1="461.20" y1="122.00" x2="467.80" y2="122.00" stroke="#1e1e1e" stroke-width="0.9"/>
<line x1="506.50" y1="57.00" x2="506.50" y2="83.00" stroke="#1e1e1e" stroke-width="0.9"/>
<line x1="503.20" y1="57.00" x2="509.80" y2="57.00" stroke="#1e1e1e" stroke-width="0.9"/>
<line x1="503.20" y1="83.00" x2="509.80" y2="83.00" stroke="#1e1e1e" stroke-width="0.9"/>
<line x1="548.20" y1="46.00" x2="548.20" y2="74.00" stroke="#1e1e1e" stroke-width="0.9"/>
<line x1="544.90" y1="46.00" x2="551.50" y2="46.00" stroke="#1e1e1e" stroke-width="0.9"/>
<line x1="544.90" y1="74.00" x2="551.50" y2="74.00" stroke="#1e1e1e" stroke-width="0.9"/>
<circle cx="380.80" cy="233.00" r="5.2" fill="#1a1a1a" stroke="#1a1a1a" stroke-width="0.9"/>
<circle cx="422.70" cy="204.00" r="5.2" fill="#1a1a1a" stroke="#1a1a1a" stroke-width="0.9"/>
<circle cx="464.50" cy="112.00" r="5.2" fill="#1a1a1a" stroke="#1a1a1a" stroke-width="0.9"/>
<circle cx="506.50" cy="70.00" r="5.2" fill="#1a1a1a" stroke="#1a1a1a" stroke-width="0.9"/>
<circle cx="548.20" cy="60.00" r="5.2" fill="#1a1a1a" stroke="#1a1a1a" stroke-width="0.9"/>
<polyline fill="none" stroke="#1e1e1e" stroke-width="1.05" points="380.80,233.00 422.70,207.00 464.50,123.00 506.50,81.70 548.20,71.50"/>
<line x1="464.50" y1="119.00" x2="464.50" y2="127.00" stroke="#1e1e1e" stroke-width="0.9"/>
<line x1="461.20" y1="119.00" x2="467.80" y2="119.00" stroke="#1e1e1e" stroke-width="0.9"/>
<line x1="461.20" y1="127.00" x2="467.80" y2="127.00" stroke="#1e1e1e" stroke-width="0.9"/>
<line x1="506.50" y1="77.70" x2="506.50" y2="85.70" stroke="#1e1e1e" stroke-width="0.9"/>
<line x1="503.20" y1="77.70" x2="509.80" y2="77.70" stroke="#1e1e1e" stroke-width="0.9"/>
<line x1="503.20" y1="85.70" x2="509.80" y2="85.70" stroke="#1e1e1e" stroke-width="0.9"/>
<line x1="548.20" y1="67.50" x2="548.20" y2="75.50" stroke="#1e1e1e" stroke-width="0.9"/>
<line x1="544.90" y1="67.50" x2="551.50" y2="67.50" stroke="#1e1e1e" stroke-width="0.9"/>
<line x1="544.90" y1="75.50" x2="551.50" y2="75.50" stroke="#1e1e1e" stroke-width="0.9"/>
<circle cx="380.80" cy="233.00" r="5.15" fill="#fff" stroke="#1a1a1a" stroke-width="0.9"/>
<circle cx="422.70" cy="207.00" r="5.15" fill="#fff" stroke="#1a1a1a" stroke-width="0.9"/>
<circle cx="464.50" cy="123.00" r="5.15" fill="#fff" stroke="#1a1a1a" stroke-width="0.9"/>
<circle cx="506.50" cy="81.70" r="5.15" fill="#fff" stroke="#1a1a1a" stroke-width="0.9"/>
<circle cx="548.20" cy="71.50" r="5.15" fill="#fff" stroke="#1a1a1a" stroke-width="0.9"/>
<polyline fill="none" stroke="#1e1e1e" stroke-width="1.05" points="380.80,233.15 422.70,217.95 464.50,131.15 506.50,90.65 548.20,79.35"/>
<line x1="464.50" y1="121.15" x2="464.50" y2="141.15" stroke="#1e1e1e" stroke-width="0.9"/>
<line x1="461.20" y1="121.15" x2="467.80" y2="121.15" stroke="#1e1e1e" stroke-width="0.9"/>
<line x1="461.20" y1="141.15" x2="467.80" y2="141.15" stroke="#1e1e1e" stroke-width="0.9"/>
<line x1="506.50" y1="86.65" x2="506.50" y2="94.65" stroke="#1e1e1e" stroke-width="0.9"/>
<line x1="503.20" y1="86.65" x2="509.80" y2="86.65" stroke="#1e1e1e" stroke-width="0.9"/>
<line x1="503.20" y1="94.65" x2="509.80" y2="94.65" stroke="#1e1e1e" stroke-width="0.9"/>
<line x1="548.20" y1="75.35" x2="548.20" y2="83.35" stroke="#1e1e1e" stroke-width="0.9"/>
<line x1="544.90" y1="75.35" x2="551.50" y2="75.35" stroke="#1e1e1e" stroke-width="0.9"/>
<line x1="544.90" y1="83.35" x2="551.50" y2="83.35" stroke="#1e1e1e" stroke-width="0.9"/>
<polygon points="375.50,230.05 386.10,230.05 380.80,239.35" fill="#1a1a1a" stroke="#1a1a1a" stroke-width="0.9"/>
<polygon points="417.40,214.85 428.00,214.85 422.70,224.15" fill="#1a1a1a" stroke="#1a1a1a" stroke-width="0.9"/>
<polygon points="459.20,128.05 469.80,128.05 464.50,137.35" fill="#1a1a1a" stroke="#1a1a1a" stroke-width="0.9"/>
<polygon points="501.20,87.55 511.80,87.55 506.50,96.85" fill="#1a1a1a" stroke="#1a1a1a" stroke-width="0.9"/>
<polygon points="542.90,76.25 553.50,76.25 548.20,85.55" fill="#1a1a1a" stroke="#1a1a1a" stroke-width="0.9"/>
<polyline fill="none" stroke="#1e1e1e" stroke-width="1.05" points="380.80,234.20 422.70,219.20 464.50,147.20 506.50,104.20 548.20,94.20"/>
<line x1="464.50" y1="139.20" x2="464.50" y2="155.20" stroke="#1e1e1e" stroke-width="0.9"/>
<line x1="461.20" y1="139.20" x2="467.80" y2="139.20" stroke="#1e1e1e" stroke-width="0.9"/>
<line x1="461.20" y1="155.20" x2="467.80" y2="155.20" stroke="#1e1e1e" stroke-width="0.9"/>
<line x1="506.50" y1="100.20" x2="506.50" y2="108.20" stroke="#1e1e1e" stroke-width="0.9"/>
<line x1="503.20" y1="100.20" x2="509.80" y2="100.20" stroke="#1e1e1e" stroke-width="0.9"/>
<line x1="503.20" y1="108.20" x2="509.80" y2="108.20" stroke="#1e1e1e" stroke-width="0.9"/>
<line x1="548.20" y1="79.80" x2="548.20" y2="108.60" stroke="#1e1e1e" stroke-width="0.9"/>
<line x1="544.90" y1="79.80" x2="551.50" y2="79.80" stroke="#1e1e1e" stroke-width="0.9"/>
<line x1="544.90" y1="108.60" x2="551.50" y2="108.60" stroke="#1e1e1e" stroke-width="0.9"/>
<polygon points="375.50,237.30 386.10,237.30 380.80,228.00" fill="#fff" stroke="#1a1a1a" stroke-width="0.9"/>
<polygon points="417.40,222.30 428.00,222.30 422.70,213.00" fill="#fff" stroke="#1a1a1a" stroke-width="0.9"/>
<polygon points="459.20,150.30 469.80,150.30 464.50,141.00" fill="#fff" stroke="#1a1a1a" stroke-width="0.9"/>
<polygon points="501.20,107.30 511.80,107.30 506.50,98.00" fill="#fff" stroke="#1a1a1a" stroke-width="0.9"/>
<polygon points="542.90,97.30 553.50,97.30 548.20,88.00" fill="#fff" stroke="#1a1a1a" stroke-width="0.9"/>
<polyline fill="none" stroke="#1e1e1e" stroke-width="1.05" points="380.80,234.00 422.70,218.50 464.50,150.00 506.50,108.30 548.20,98.00"/>
<line x1="464.50" y1="139.70" x2="464.50" y2="160.30" stroke="#1e1e1e" stroke-width="0.9"/>
<line x1="461.20" y1="139.70" x2="467.80" y2="139.70" stroke="#1e1e1e" stroke-width="0.9"/>
<line x1="461.20" y1="160.30" x2="467.80" y2="160.30" stroke="#1e1e1e" stroke-width="0.9"/>
<line x1="506.50" y1="94.60" x2="506.50" y2="122.00" stroke="#1e1e1e" stroke-width="0.9"/>
<line x1="503.20" y1="94.60" x2="509.80" y2="94.60" stroke="#1e1e1e" stroke-width="0.9"/>
<line x1="503.20" y1="122.00" x2="509.80" y2="122.00" stroke="#1e1e1e" stroke-width="0.9"/>
<line x1="548.20" y1="83.30" x2="548.20" y2="112.70" stroke="#1e1e1e" stroke-width="0.9"/>
<line x1="544.90" y1="83.30" x2="551.50" y2="83.30" stroke="#1e1e1e" stroke-width="0.9"/>
<line x1="544.90" y1="112.70" x2="551.50" y2="112.70" stroke="#1e1e1e" stroke-width="0.9"/>
<rect x="376.40" y="229.60" width="8.80" height="8.80" fill="#1a1a1a" stroke="#1a1a1a" stroke-width="0.9"/>
<rect x="418.30" y="214.10" width="8.80" height="8.80" fill="#1a1a1a" stroke="#1a1a1a" stroke-width="0.9"/>
<rect x="460.10" y="145.60" width="8.80" height="8.80" fill="#1a1a1a" stroke="#1a1a1a" stroke-width="0.9"/>
<rect x="502.10" y="103.90" width="8.80" height="8.80" fill="#1a1a1a" stroke="#1a1a1a" stroke-width="0.9"/>
<rect x="543.80" y="93.60" width="8.80" height="8.80" fill="#1a1a1a" stroke="#1a1a1a" stroke-width="0.9"/>
<polyline fill="none" stroke="#1e1e1e" stroke-width="1.05" points="380.80,221.80 422.70,206.30 464.50,111.00 506.50,69.20 548.20,59.00"/>
<line x1="464.50" y1="100.30" x2="464.50" y2="121.70" stroke="#1e1e1e" stroke-width="0.9"/>
<line x1="461.20" y1="100.30" x2="467.80" y2="100.30" stroke="#1e1e1e" stroke-width="0.9"/>
<line x1="461.20" y1="121.70" x2="467.80" y2="121.70" stroke="#1e1e1e" stroke-width="0.9"/>
<line x1="506.50" y1="55.40" x2="506.50" y2="83.00" stroke="#1e1e1e" stroke-width="0.9"/>
<line x1="503.20" y1="55.40" x2="509.80" y2="55.40" stroke="#1e1e1e" stroke-width="0.9"/>
<line x1="503.20" y1="83.00" x2="509.80" y2="83.00" stroke="#1e1e1e" stroke-width="0.9"/>
<line x1="548.20" y1="44.30" x2="548.20" y2="73.70" stroke="#1e1e1e" stroke-width="0.9"/>
<line x1="544.90" y1="44.30" x2="551.50" y2="44.30" stroke="#1e1e1e" stroke-width="0.9"/>
<line x1="544.90" y1="73.70" x2="551.50" y2="73.70" stroke="#1e1e1e" stroke-width="0.9"/>
<rect x="376.40" y="217.40" width="8.80" height="8.80" fill="#fff" stroke="#1a1a1a" stroke-width="0.9"/>
<rect x="418.30" y="201.90" width="8.80" height="8.80" fill="#fff" stroke="#1a1a1a" stroke-width="0.9"/>
<rect x="460.10" y="106.60" width="8.80" height="8.80" fill="#fff" stroke="#1a1a1a" stroke-width="0.9"/>
<rect x="502.10" y="64.80" width="8.80" height="8.80" fill="#fff" stroke="#1a1a1a" stroke-width="0.9"/>
<rect x="543.80" y="54.60" width="8.80" height="8.80" fill="#fff" stroke="#1a1a1a" stroke-width="0.9"/>
<polyline fill="none" stroke="#1e1e1e" stroke-width="1.05" points="380.80,477.50 422.70,446.30 464.50,362.00 506.50,323.00 548.20,313.00"/>
<line x1="464.50" y1="352.00" x2="464.50" y2="372.00" stroke="#1e1e1e" stroke-width="0.9"/>
<line x1="461.20" y1="352.00" x2="467.80" y2="352.00" stroke="#1e1e1e" stroke-width="0.9"/>
<line x1="461.20" y1="372.00" x2="467.80" y2="372.00" stroke="#1e1e1e" stroke-width="0.9"/>
<line x1="506.50" y1="318.00" x2="506.50" y2="328.00" stroke="#1e1e1e" stroke-width="0.9"/>
<line x1="503.20" y1="318.00" x2="509.80" y2="318.00" stroke="#1e1e1e" stroke-width="0.9"/>
<line x1="503.20" y1="328.00" x2="509.80" y2="328.00" stroke="#1e1e1e" stroke-width="0.9"/>
<line x1="548.20" y1="308.00" x2="548.20" y2="318.00" stroke="#1e1e1e" stroke-width="0.9"/>
<line x1="544.90" y1="308.00" x2="551.50" y2="308.00" stroke="#1e1e1e" stroke-width="0.9"/>
<line x1="544.90" y1="318.00" x2="551.50" y2="318.00" stroke="#1e1e1e" stroke-width="0.9"/>
<circle cx="380.80" cy="477.50" r="5.2" fill="#1a1a1a" stroke="#1a1a1a" stroke-width="0.9"/>
<circle cx="422.70" cy="446.30" r="5.2" fill="#1a1a1a" stroke="#1a1a1a" stroke-width="0.9"/>
<circle cx="464.50" cy="362.00" r="5.2" fill="#1a1a1a" stroke="#1a1a1a" stroke-width="0.9"/>
<circle cx="506.50" cy="323.00" r="5.2" fill="#1a1a1a" stroke="#1a1a1a" stroke-width="0.9"/>
<circle cx="548.20" cy="313.00" r="5.2" fill="#1a1a1a" stroke="#1a1a1a" stroke-width="0.9"/>
<polyline fill="none" stroke="#1e1e1e" stroke-width="1.05" points="380.80,477.50 422.70,461.00 464.50,371.60 506.50,333.70 548.20,321.80"/>
<line x1="464.50" y1="367.60" x2="464.50" y2="375.60" stroke="#1e1e1e" stroke-width="0.9"/>
<line x1="461.20" y1="367.60" x2="467.80" y2="367.60" stroke="#1e1e1e" stroke-width="0.9"/>
<line x1="461.20" y1="375.60" x2="467.80" y2="375.60" stroke="#1e1e1e" stroke-width="0.9"/>
<line x1="506.50" y1="329.70" x2="506.50" y2="337.70" stroke="#1e1e1e" stroke-width="0.9"/>
<line x1="503.20" y1="329.70" x2="509.80" y2="329.70" stroke="#1e1e1e" stroke-width="0.9"/>
<line x1="503.20" y1="337.70" x2="509.80" y2="337.70" stroke="#1e1e1e" stroke-width="0.9"/>
<line x1="548.20" y1="317.80" x2="548.20" y2="325.80" stroke="#1e1e1e" stroke-width="0.9"/>
<line x1="544.90" y1="317.80" x2="551.50" y2="317.80" stroke="#1e1e1e" stroke-width="0.9"/>
<line x1="544.90" y1="325.80" x2="551.50" y2="325.80" stroke="#1e1e1e" stroke-width="0.9"/>
<circle cx="380.80" cy="477.50" r="5.15" fill="#fff" stroke="#1a1a1a" stroke-width="0.9"/>
<circle cx="422.70" cy="461.00" r="5.15" fill="#fff" stroke="#1a1a1a" stroke-width="0.9"/>
<circle cx="464.50" cy="371.60" r="5.15" fill="#fff" stroke="#1a1a1a" stroke-width="0.9"/>
<circle cx="506.50" cy="333.70" r="5.15" fill="#fff" stroke="#1a1a1a" stroke-width="0.9"/>
<circle cx="548.20" cy="321.80" r="5.15" fill="#fff" stroke="#1a1a1a" stroke-width="0.9"/>
<polyline fill="none" stroke="#1e1e1e" stroke-width="1.05" points="380.80,478.05 422.70,461.65 464.50,378.15 506.50,339.15 548.20,327.15"/>
<line x1="464.50" y1="374.15" x2="464.50" y2="382.15" stroke="#1e1e1e" stroke-width="0.9"/>
<line x1="461.20" y1="374.15" x2="467.80" y2="374.15" stroke="#1e1e1e" stroke-width="0.9"/>
<line x1="461.20" y1="382.15" x2="467.80" y2="382.15" stroke="#1e1e1e" stroke-width="0.9"/>
<line x1="506.50" y1="335.15" x2="506.50" y2="343.15" stroke="#1e1e1e" stroke-width="0.9"/>
<line x1="503.20" y1="335.15" x2="509.80" y2="335.15" stroke="#1e1e1e" stroke-width="0.9"/>
<line x1="503.20" y1="343.15" x2="509.80" y2="343.15" stroke="#1e1e1e" stroke-width="0.9"/>
<line x1="548.20" y1="323.15" x2="548.20" y2="331.15" stroke="#1e1e1e" stroke-width="0.9"/>
<line x1="544.90" y1="323.15" x2="551.50" y2="323.15" stroke="#1e1e1e" stroke-width="0.9"/>
<line x1="544.90" y1="331.15" x2="551.50" y2="331.15" stroke="#1e1e1e" stroke-width="0.9"/>
<polygon points="375.50,474.95 386.10,474.95 380.80,484.25" fill="#1a1a1a" stroke="#1a1a1a" stroke-width="0.9"/>
<polygon points="417.40,458.55 428.00,458.55 422.70,467.85" fill="#1a1a1a" stroke="#1a1a1a" stroke-width="0.9"/>
<polygon points="459.20,375.05 469.80,375.05 464.50,384.35" fill="#1a1a1a" stroke="#1a1a1a" stroke-width="0.9"/>
<polygon points="501.20,336.05 511.80,336.05 506.50,345.35" fill="#1a1a1a" stroke="#1a1a1a" stroke-width="0.9"/>
<polygon points="542.90,324.05 553.50,324.05 548.20,333.35" fill="#1a1a1a" stroke="#1a1a1a" stroke-width="0.9"/>
<polyline fill="none" stroke="#1e1e1e" stroke-width="1.05" points="380.80,478.70 422.70,462.20 464.50,394.20 506.50,354.70 548.20,342.20"/>
<line x1="464.50" y1="390.20" x2="464.50" y2="398.20" stroke="#1e1e1e" stroke-width="0.9"/>
<line x1="461.20" y1="390.20" x2="467.80" y2="390.20" stroke="#1e1e1e" stroke-width="0.9"/>
<line x1="461.20" y1="398.20" x2="467.80" y2="398.20" stroke="#1e1e1e" stroke-width="0.9"/>
<line x1="506.50" y1="340.90" x2="506.50" y2="368.50" stroke="#1e1e1e" stroke-width="0.9"/>
<line x1="503.20" y1="340.90" x2="509.80" y2="340.90" stroke="#1e1e1e" stroke-width="0.9"/>
<line x1="503.20" y1="368.50" x2="509.80" y2="368.50" stroke="#1e1e1e" stroke-width="0.9"/>
<line x1="548.20" y1="327.20" x2="548.20" y2="357.20" stroke="#1e1e1e" stroke-width="0.9"/>
<line x1="544.90" y1="327.20" x2="551.50" y2="327.20" stroke="#1e1e1e" stroke-width="0.9"/>
<line x1="544.90" y1="357.20" x2="551.50" y2="357.20" stroke="#1e1e1e" stroke-width="0.9"/>
<polygon points="375.50,481.80 386.10,481.80 380.80,472.50" fill="#fff" stroke="#1a1a1a" stroke-width="0.9"/>
<polygon points="417.40,465.30 428.00,465.30 422.70,456.00" fill="#fff" stroke="#1a1a1a" stroke-width="0.9"/>
<polygon points="459.20,397.30 469.80,397.30 464.50,388.00" fill="#fff" stroke="#1a1a1a" stroke-width="0.9"/>
<polygon points="501.20,357.80 511.80,357.80 506.50,348.50" fill="#fff" stroke="#1a1a1a" stroke-width="0.9"/>
<polygon points="542.90,345.30 553.50,345.30 548.20,336.00" fill="#fff" stroke="#1a1a1a" stroke-width="0.9"/>
<polyline fill="none" stroke="#1e1e1e" stroke-width="1.05" points="380.80,478.00 422.70,460.20 464.50,400.50 506.50,360.70 548.20,348.80"/>
<line x1="464.50" y1="390.00" x2="464.50" y2="411.00" stroke="#1e1e1e" stroke-width="0.9"/>
<line x1="461.20" y1="390.00" x2="467.80" y2="390.00" stroke="#1e1e1e" stroke-width="0.9"/>
<line x1="461.20" y1="411.00" x2="467.80" y2="411.00" stroke="#1e1e1e" stroke-width="0.9"/>
<line x1="506.50" y1="346.40" x2="506.50" y2="375.00" stroke="#1e1e1e" stroke-width="0.9"/>
<line x1="503.20" y1="346.40" x2="509.80" y2="346.40" stroke="#1e1e1e" stroke-width="0.9"/>
<line x1="503.20" y1="375.00" x2="509.80" y2="375.00" stroke="#1e1e1e" stroke-width="0.9"/>
<line x1="548.20" y1="333.10" x2="548.20" y2="364.50" stroke="#1e1e1e" stroke-width="0.9"/>
<line x1="544.90" y1="333.10" x2="551.50" y2="333.10" stroke="#1e1e1e" stroke-width="0.9"/>
<line x1="544.90" y1="364.50" x2="551.50" y2="364.50" stroke="#1e1e1e" stroke-width="0.9"/>
<rect x="376.40" y="473.60" width="8.80" height="8.80" fill="#1a1a1a" stroke="#1a1a1a" stroke-width="0.9"/>
<rect x="418.30" y="455.80" width="8.80" height="8.80" fill="#1a1a1a" stroke="#1a1a1a" stroke-width="0.9"/>
<rect x="460.10" y="396.10" width="8.80" height="8.80" fill="#1a1a1a" stroke="#1a1a1a" stroke-width="0.9"/>
<rect x="502.10" y="356.30" width="8.80" height="8.80" fill="#1a1a1a" stroke="#1a1a1a" stroke-width="0.9"/>
<rect x="543.80" y="344.40" width="8.80" height="8.80" fill="#1a1a1a" stroke="#1a1a1a" stroke-width="0.9"/>
<polyline fill="none" stroke="#1e1e1e" stroke-width="1.05" points="380.80,462.60 422.70,446.30 464.50,360.70 506.50,321.00 548.20,309.50"/>
<line x1="464.50" y1="350.30" x2="464.50" y2="371.10" stroke="#1e1e1e" stroke-width="0.9"/>
<line x1="461.20" y1="350.30" x2="467.80" y2="350.30" stroke="#1e1e1e" stroke-width="0.9"/>
<line x1="461.20" y1="371.10" x2="467.80" y2="371.10" stroke="#1e1e1e" stroke-width="0.9"/>
<line x1="506.50" y1="307.60" x2="506.50" y2="334.40" stroke="#1e1e1e" stroke-width="0.9"/>
<line x1="503.20" y1="307.60" x2="509.80" y2="307.60" stroke="#1e1e1e" stroke-width="0.9"/>
<line x1="503.20" y1="334.40" x2="509.80" y2="334.40" stroke="#1e1e1e" stroke-width="0.9"/>
<line x1="548.20" y1="294.90" x2="548.20" y2="324.10" stroke="#1e1e1e" stroke-width="0.9"/>
<line x1="544.90" y1="294.90" x2="551.50" y2="294.90" stroke="#1e1e1e" stroke-width="0.9"/>
<line x1="544.90" y1="324.10" x2="551.50" y2="324.10" stroke="#1e1e1e" stroke-width="0.9"/>
<rect x="376.40" y="458.20" width="8.80" height="8.80" fill="#fff" stroke="#1a1a1a" stroke-width="0.9"/>
<rect x="418.30" y="441.90" width="8.80" height="8.80" fill="#fff" stroke="#1a1a1a" stroke-width="0.9"/>
<rect x="460.10" y="356.30" width="8.80" height="8.80" fill="#fff" stroke="#1a1a1a" stroke-width="0.9"/>
<rect x="502.10" y="316.60" width="8.80" height="8.80" fill="#fff" stroke="#1a1a1a" stroke-width="0.9"/>
<rect x="543.80" y="305.10" width="8.80" height="8.80" fill="#fff" stroke="#1a1a1a" stroke-width="0.9"/>
<polyline fill="none" stroke="#1e1e1e" stroke-width="1.05" points="422.70,746.00 464.50,615.00 506.50,560.00 548.20,552.00"/>
<line x1="464.50" y1="602.00" x2="464.50" y2="628.00" stroke="#1e1e1e" stroke-width="0.9"/>
<line x1="461.20" y1="602.00" x2="467.80" y2="602.00" stroke="#1e1e1e" stroke-width="0.9"/>
<line x1="461.20" y1="628.00" x2="467.80" y2="628.00" stroke="#1e1e1e" stroke-width="0.9"/>
<line x1="506.50" y1="542.00" x2="506.50" y2="578.00" stroke="#1e1e1e" stroke-width="0.9"/>
<line x1="503.20" y1="542.00" x2="509.80" y2="542.00" stroke="#1e1e1e" stroke-width="0.9"/>
<line x1="503.20" y1="578.00" x2="509.80" y2="578.00" stroke="#1e1e1e" stroke-width="0.9"/>
<line x1="548.20" y1="533.00" x2="548.20" y2="571.00" stroke="#1e1e1e" stroke-width="0.9"/>
<line x1="544.90" y1="533.00" x2="551.50" y2="533.00" stroke="#1e1e1e" stroke-width="0.9"/>
<line x1="544.90" y1="571.00" x2="551.50" y2="571.00" stroke="#1e1e1e" stroke-width="0.9"/>
<circle cx="422.70" cy="746.00" r="5.2" fill="#1a1a1a" stroke="#1a1a1a" stroke-width="0.9"/>
<circle cx="464.50" cy="615.00" r="5.2" fill="#1a1a1a" stroke="#1a1a1a" stroke-width="0.9"/>
<circle cx="506.50" cy="560.00" r="5.2" fill="#1a1a1a" stroke="#1a1a1a" stroke-width="0.9"/>
<circle cx="548.20" cy="552.00" r="5.2" fill="#1a1a1a" stroke="#1a1a1a" stroke-width="0.9"/>
<polyline fill="none" stroke="#1e1e1e" stroke-width="1.05" points="422.70,760.00 464.50,633.00 506.50,577.50 548.20,570.00"/>
<line x1="464.50" y1="628.00" x2="464.50" y2="638.00" stroke="#1e1e1e" stroke-width="0.9"/>
<line x1="461.20" y1="628.00" x2="467.80" y2="628.00" stroke="#1e1e1e" stroke-width="0.9"/>
<line x1="461.20" y1="638.00" x2="467.80" y2="638.00" stroke="#1e1e1e" stroke-width="0.9"/>
<line x1="506.50" y1="572.50" x2="506.50" y2="582.50" stroke="#1e1e1e" stroke-width="0.9"/>
<line x1="503.20" y1="572.50" x2="509.80" y2="572.50" stroke="#1e1e1e" stroke-width="0.9"/>
<line x1="503.20" y1="582.50" x2="509.80" y2="582.50" stroke="#1e1e1e" stroke-width="0.9"/>
<line x1="548.20" y1="565.00" x2="548.20" y2="575.00" stroke="#1e1e1e" stroke-width="0.9"/>
<line x1="544.90" y1="565.00" x2="551.50" y2="565.00" stroke="#1e1e1e" stroke-width="0.9"/>
<line x1="544.90" y1="575.00" x2="551.50" y2="575.00" stroke="#1e1e1e" stroke-width="0.9"/>
<circle cx="422.70" cy="760.00" r="5.15" fill="#fff" stroke="#1a1a1a" stroke-width="0.9"/>
<circle cx="464.50" cy="633.00" r="5.15" fill="#fff" stroke="#1a1a1a" stroke-width="0.9"/>
<circle cx="506.50" cy="577.50" r="5.15" fill="#fff" stroke="#1a1a1a" stroke-width="0.9"/>
<circle cx="548.20" cy="570.00" r="5.15" fill="#fff" stroke="#1a1a1a" stroke-width="0.9"/>
<polyline fill="none" stroke="#1e1e1e" stroke-width="1.05" points="422.70,758.65 464.50,648.65 506.50,592.65 548.20,587.45"/>
<line x1="464.50" y1="643.65" x2="464.50" y2="653.65" stroke="#1e1e1e" stroke-width="0.9"/>
<line x1="461.20" y1="643.65" x2="467.80" y2="643.65" stroke="#1e1e1e" stroke-width="0.9"/>
<line x1="461.20" y1="653.65" x2="467.80" y2="653.65" stroke="#1e1e1e" stroke-width="0.9"/>
<line x1="506.50" y1="587.65" x2="506.50" y2="597.65" stroke="#1e1e1e" stroke-width="0.9"/>
<line x1="503.20" y1="587.65" x2="509.80" y2="587.65" stroke="#1e1e1e" stroke-width="0.9"/>
<line x1="503.20" y1="597.65" x2="509.80" y2="597.65" stroke="#1e1e1e" stroke-width="0.9"/>
<line x1="548.20" y1="582.45" x2="548.20" y2="592.45" stroke="#1e1e1e" stroke-width="0.9"/>
<line x1="544.90" y1="582.45" x2="551.50" y2="582.45" stroke="#1e1e1e" stroke-width="0.9"/>
<line x1="544.90" y1="592.45" x2="551.50" y2="592.45" stroke="#1e1e1e" stroke-width="0.9"/>
<polygon points="417.40,755.55 428.00,755.55 422.70,764.85" fill="#1a1a1a" stroke="#1a1a1a" stroke-width="0.9"/>
<polygon points="459.20,645.55 469.80,645.55 464.50,654.85" fill="#1a1a1a" stroke="#1a1a1a" stroke-width="0.9"/>
<polygon points="501.20,589.55 511.80,589.55 506.50,598.85" fill="#1a1a1a" stroke="#1a1a1a" stroke-width="0.9"/>
<polygon points="542.90,584.35 553.50,584.35 548.20,593.65" fill="#1a1a1a" stroke="#1a1a1a" stroke-width="0.9"/>
<polyline fill="none" stroke="#1e1e1e" stroke-width="1.05" points="422.70,761.20 464.50,658.20 506.50,602.20 548.20,594.20"/>
<line x1="464.50" y1="653.20" x2="464.50" y2="663.20" stroke="#1e1e1e" stroke-width="0.9"/>
<line x1="461.20" y1="653.20" x2="467.80" y2="653.20" stroke="#1e1e1e" stroke-width="0.9"/>
<line x1="461.20" y1="663.20" x2="467.80" y2="663.20" stroke="#1e1e1e" stroke-width="0.9"/>
<line x1="506.50" y1="597.20" x2="506.50" y2="607.20" stroke="#1e1e1e" stroke-width="0.9"/>
<line x1="503.20" y1="597.20" x2="509.80" y2="597.20" stroke="#1e1e1e" stroke-width="0.9"/>
<line x1="503.20" y1="607.20" x2="509.80" y2="607.20" stroke="#1e1e1e" stroke-width="0.9"/>
<line x1="548.20" y1="589.20" x2="548.20" y2="599.20" stroke="#1e1e1e" stroke-width="0.9"/>
<line x1="544.90" y1="589.20" x2="551.50" y2="589.20" stroke="#1e1e1e" stroke-width="0.9"/>
<line x1="544.90" y1="599.20" x2="551.50" y2="599.20" stroke="#1e1e1e" stroke-width="0.9"/>
<polygon points="417.40,764.30 428.00,764.30 422.70,755.00" fill="#fff" stroke="#1a1a1a" stroke-width="0.9"/>
<polygon points="459.20,661.30 469.80,661.30 464.50,652.00" fill="#fff" stroke="#1a1a1a" stroke-width="0.9"/>
<polygon points="501.20,605.30 511.80,605.30 506.50,596.00" fill="#fff" stroke="#1a1a1a" stroke-width="0.9"/>
<polygon points="542.90,597.30 553.50,597.30 548.20,588.00" fill="#fff" stroke="#1a1a1a" stroke-width="0.9"/>
<polyline fill="none" stroke="#1e1e1e" stroke-width="1.05" points="422.70,760.00 464.50,658.60 506.50,603.50 548.20,595.60"/>
<line x1="464.50" y1="648.20" x2="464.50" y2="669.00" stroke="#1e1e1e" stroke-width="0.9"/>
<line x1="461.20" y1="648.20" x2="467.80" y2="648.20" stroke="#1e1e1e" stroke-width="0.9"/>
<line x1="461.20" y1="669.00" x2="467.80" y2="669.00" stroke="#1e1e1e" stroke-width="0.9"/>
<line x1="506.50" y1="589.20" x2="506.50" y2="617.80" stroke="#1e1e1e" stroke-width="0.9"/>
<line x1="503.20" y1="589.20" x2="509.80" y2="589.20" stroke="#1e1e1e" stroke-width="0.9"/>
<line x1="503.20" y1="617.80" x2="509.80" y2="617.80" stroke="#1e1e1e" stroke-width="0.9"/>
<line x1="548.20" y1="580.00" x2="548.20" y2="611.20" stroke="#1e1e1e" stroke-width="0.9"/>
<line x1="544.90" y1="580.00" x2="551.50" y2="580.00" stroke="#1e1e1e" stroke-width="0.9"/>
<line x1="544.90" y1="611.20" x2="551.50" y2="611.20" stroke="#1e1e1e" stroke-width="0.9"/>
<rect x="418.30" y="755.60" width="8.80" height="8.80" fill="#1a1a1a" stroke="#1a1a1a" stroke-width="0.9"/>
<rect x="460.10" y="654.20" width="8.80" height="8.80" fill="#1a1a1a" stroke="#1a1a1a" stroke-width="0.9"/>
<rect x="502.10" y="599.10" width="8.80" height="8.80" fill="#1a1a1a" stroke="#1a1a1a" stroke-width="0.9"/>
<rect x="543.80" y="591.20" width="8.80" height="8.80" fill="#1a1a1a" stroke="#1a1a1a" stroke-width="0.9"/>
<polyline fill="none" stroke="#1e1e1e" stroke-width="1.05" points="422.70,755.50 464.50,616.00 506.50,560.80 548.20,552.80"/>
<line x1="464.50" y1="602.60" x2="464.50" y2="629.40" stroke="#1e1e1e" stroke-width="0.9"/>
<line x1="461.20" y1="602.60" x2="467.80" y2="602.60" stroke="#1e1e1e" stroke-width="0.9"/>
<line x1="461.20" y1="629.40" x2="467.80" y2="629.40" stroke="#1e1e1e" stroke-width="0.9"/>
<line x1="506.50" y1="542.80" x2="506.50" y2="578.80" stroke="#1e1e1e" stroke-width="0.9"/>
<line x1="503.20" y1="542.80" x2="509.80" y2="542.80" stroke="#1e1e1e" stroke-width="0.9"/>
<line x1="503.20" y1="578.80" x2="509.80" y2="578.80" stroke="#1e1e1e" stroke-width="0.9"/>
<line x1="548.20" y1="538.80" x2="548.20" y2="566.80" stroke="#1e1e1e" stroke-width="0.9"/>
<line x1="544.90" y1="538.80" x2="551.50" y2="538.80" stroke="#1e1e1e" stroke-width="0.9"/>
<line x1="544.90" y1="566.80" x2="551.50" y2="566.80" stroke="#1e1e1e" stroke-width="0.9"/>
<rect x="418.30" y="751.10" width="8.80" height="8.80" fill="#fff" stroke="#1a1a1a" stroke-width="0.9"/>
<rect x="460.10" y="611.60" width="8.80" height="8.80" fill="#fff" stroke="#1a1a1a" stroke-width="0.9"/>
<rect x="502.10" y="556.40" width="8.80" height="8.80" fill="#fff" stroke="#1a1a1a" stroke-width="0.9"/>
<rect x="543.80" y="548.40" width="8.80" height="8.80" fill="#fff" stroke="#1a1a1a" stroke-width="0.9"/>
<line x1="119.40" y1="74.30" x2="143.70" y2="74.30" stroke="#1e1e1e" stroke-width="1.05"/>
<circle cx="131.70" cy="74.30" r="5.2" fill="#1a1a1a" stroke="#1a1a1a" stroke-width="0.9"/>
<text x="149.46" y="78.80" font-size="10.3" text-anchor="start" >FT1</text>
<line x1="119.40" y1="90.70" x2="143.70" y2="90.70" stroke="#1e1e1e" stroke-width="1.05"/>
<circle cx="131.70" cy="90.70" r="5.15" fill="#fff" stroke="#1a1a1a" stroke-width="0.9"/>
<text x="149.46" y="95.20" font-size="10.3" text-anchor="start" >FT2</text>
<line x1="119.40" y1="107.30" x2="143.70" y2="107.30" stroke="#1e1e1e" stroke-width="1.05"/>
<polygon points="126.40,104.20 137.00,104.20 131.70,113.50" fill="#1a1a1a" stroke="#1a1a1a" stroke-width="0.9"/>
<text x="149.46" y="111.80" font-size="10.3" text-anchor="start" >FT3</text>
<line x1="119.40" y1="123.40" x2="143.70" y2="123.40" stroke="#1e1e1e" stroke-width="1.05"/>
<polygon points="126.40,126.50 137.00,126.50 131.70,117.20" fill="#fff" stroke="#1a1a1a" stroke-width="0.9"/>
<text x="149.46" y="127.90" font-size="10.3" text-anchor="start" >FT4</text>
<line x1="119.40" y1="139.90" x2="143.70" y2="139.90" stroke="#1e1e1e" stroke-width="1.05"/>
<rect x="127.30" y="135.50" width="8.80" height="8.80" fill="#1a1a1a" stroke="#1a1a1a" stroke-width="0.9"/>
<text x="149.46" y="144.40" font-size="10.3" text-anchor="start" >FT5</text>
<line x1="119.40" y1="156.30" x2="143.70" y2="156.30" stroke="#1e1e1e" stroke-width="1.05"/>
<rect x="127.30" y="151.90" width="8.80" height="8.80" fill="#fff" stroke="#1a1a1a" stroke-width="0.9"/>
<text x="149.46" y="160.80" font-size="10.3" text-anchor="start" >FT6</text>
</svg>
</body></html>
